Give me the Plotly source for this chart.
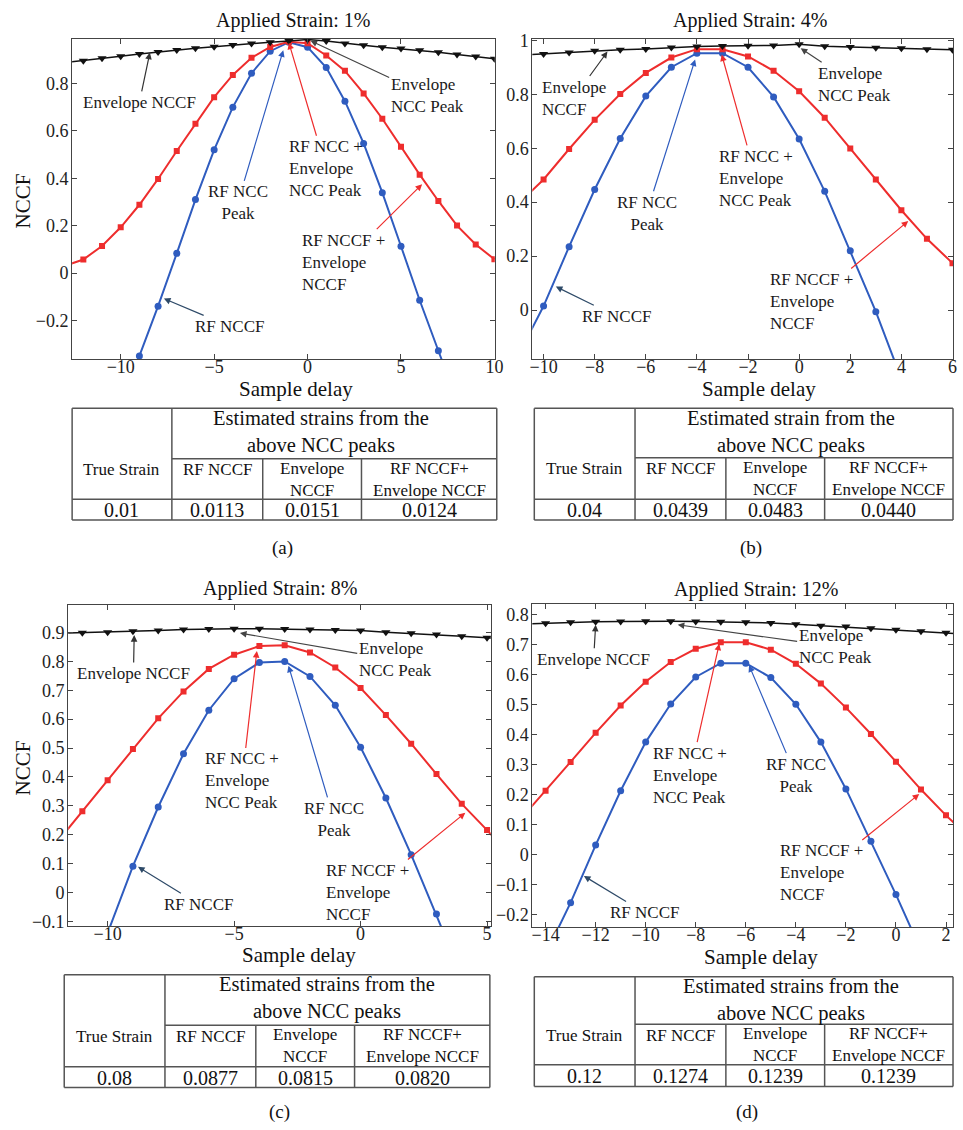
import plotly.graph_objects as go

W, H = 963, 1130
FONT = "Liberation Serif"

# ---------------- data ----------------
titles = ["Applied Strain: 1%", "Applied Strain: 4%", "Applied Strain: 8%", "Applied Strain: 12%"]
captions = ["(a)", "(b)", "(c)", "(d)"]

delay_a = list(range(-13, 11))
env_a = [0.888, 0.896, 0.906, 0.915, 0.924, 0.933, 0.941, 0.948, 0.955, 0.962, 0.968, 0.974, 0.979,
         0.985, 0.979, 0.969, 0.961, 0.953, 0.947, 0.940, 0.932, 0.922, 0.914, 0.904]
red_a = [0.030, 0.057, 0.114, 0.193, 0.288, 0.397, 0.515, 0.630, 0.742, 0.836, 0.908, 0.954, 0.976,
         0.970, 0.918, 0.853, 0.758, 0.651, 0.533, 0.415, 0.304, 0.200, 0.120, 0.058]
blue_a = [None, None, None, -0.56, -0.35, -0.14, 0.083, 0.31, 0.52, 0.70, 0.843, 0.936, 0.974,
          0.953, 0.867, 0.725, 0.547, 0.339, 0.113, -0.115, -0.328, -0.54, None, None]

delay_b = list(range(-11, 7))
env_b = [0.944, 0.949, 0.955, 0.961, 0.965, 0.968, 0.973, 0.977, 0.979, 0.980, 0.981, 0.985,
         0.978, 0.975, 0.972, 0.970, 0.967, 0.965]
red_b = [0.393, 0.484, 0.597, 0.705, 0.801, 0.879, 0.936, 0.967, 0.967, 0.940, 0.887, 0.811,
         0.713, 0.599, 0.484, 0.370, 0.264, 0.174]
blue_b = [-0.17, 0.015, 0.235, 0.447, 0.636, 0.793, 0.900, 0.952, 0.952, 0.900, 0.790, 0.634,
          0.440, 0.220, -0.006, -0.255, None, None]

delay_c = list(range(-12, 7))
env_c = [0.897, 0.899, 0.901, 0.904, 0.907, 0.910, 0.912, 0.913, 0.913, 0.912, 0.910, 0.909,
         0.907, 0.901, 0.897, 0.893, 0.887, 0.882, 0.876]
red_c = [0.174, 0.281, 0.389, 0.497, 0.603, 0.696, 0.774, 0.823, 0.853, 0.856, 0.831, 0.779,
         0.708, 0.614, 0.515, 0.410, 0.307, 0.216, 0.120]
blue_c = [None, None, -0.14, 0.091, 0.296, 0.480, 0.631, 0.740, 0.796, 0.800, 0.748, 0.648,
          0.503, 0.327, 0.131, -0.074, -0.29, None, None]

delay_d = list(range(-15, 4))
env_d = [0.769, 0.772, 0.775, 0.777, 0.778, 0.779, 0.779, 0.778, 0.777, 0.775, 0.773, 0.769,
         0.764, 0.761, 0.755, 0.750, 0.745, 0.740, 0.735]
red_d = [0.120, 0.214, 0.310, 0.407, 0.498, 0.577, 0.643, 0.687, 0.709, 0.709, 0.684, 0.637,
         0.571, 0.491, 0.403, 0.311, 0.218, 0.132, 0.053]
blue_d = [None, -0.331, -0.159, 0.033, 0.214, 0.376, 0.503, 0.593, 0.639, 0.639, 0.591, 0.502,
          0.376, 0.220, 0.046, -0.132, -0.318, None, None]

# table values
true_strain = ["0.01", "0.04", "0.08", "0.12"]
rf_est = ["0.0113", "0.0439", "0.0877", "0.1274"]
env_est = ["0.0151", "0.0483", "0.0815", "0.1239"]
comb_est = ["0.0124", "0.0440", "0.0820", "0.1239"]
header_text = ["Estimated strains from the<br>above NCC peaks",
               "Estimated strain from the<br>above NCC peaks",
               "Estimated strains from the<br>above NCC peaks",
               "Estimated strains from the<br>above NCC peaks"]
sub_headers = ["True Strain", "RF NCCF", "Envelope<br>NCCF", "RF NCCF+<br>Envelope NCCF"]

# ---------------- layout geometry (pixels) ----------------
def PX(x):
    return x / W


def PY(y):
    return 1 - y / H


RED = "#EE2D2D"
BLUE = "#2F5CBF"
BLACK = "#111111"
SLATE = "#2E4A68"

panels = [
    dict(delay=delay_a, env=env_a, red=red_a, blue=blue_a, box=(70, 498, 31, 355),
         xr=[-12.6, 10.02], yr=[-0.3625, 0.989], xd=5, yd=0.2, title_x=294, title_y=13,
         xlab=(297, 385), ylab=True),
    dict(delay=delay_b, env=env_b, red=red_b, blue=blue_b, box=(536, 962, 31, 355),
         xr=[-10.44, 6.02], yr=[-0.181, 1.006], xd=2, yd=0.2, title_x=756, title_y=13,
         xlab=(766, 385), ylab=False),
    dict(delay=delay_c, env=env_c, red=red_c, blue=blue_c, box=(66, 494, 604, 929),
         xr=[-11.56, 5.15], yr=[-0.117, 0.995], xd=5, yd=0.1, title_x=281, title_y=587,
         xlab=(300, 958), ylab=True),
    dict(delay=delay_d, env=env_d, red=red_d, blue=blue_d, box=(536, 962, 603, 930),
         xr=[-14.53, 2.28], yr=[-0.241, 0.836], xd=2, yd=0.1, title_x=762, title_y=588,
         xlab=(768, 960), ylab=False),
]

# arrow annotations: (text, tip_x, tip_y, text_x, text_y, color, align)
labels = [
    [("Envelope NCCF", -8.44, 0.93, -9.0, 0.72, "#333333", "center"),
     ("Envelope<br>NCC Peak", 0.16, 0.98, 6.4, 0.75, "#444444", "left"),
     ("RF NCC +<br>Envelope<br>NCC Peak", -1.0, 0.972, 1.0, 0.44, RED, "left"),
     ("RF NCC<br>Peak", -1.3, 0.94, -3.74, 0.296, BLUE, "center"),
     ("RF NCCF +<br>Envelope<br>NCCF", 6.13, 0.375, 1.92, 0.046, RED, "left"),
     ("RF NCCF", -7.69, -0.108, -4.16, -0.225, SLATE, "center")],
    [("Envelope<br>NCCF", -7.5, 0.958, -8.82, 0.786, "#333333", "left"),
     ("Envelope<br>NCC Peak", 0.06, 0.97, 2.18, 0.837, "#444444", "left"),
     ("RF NCC +<br>Envelope<br>NCC Peak", -3.03, 0.947, -1.68, 0.488, RED, "left"),
     ("RF NCC<br>Peak", -4.07, 0.929, -5.97, 0.359, BLUE, "center"),
     ("RF NCCF +<br>Envelope<br>NCCF", 4.27, 0.33, 0.48, 0.032, RED, "left"),
     ("RF NCCF", -9.52, 0.087, -7.16, -0.023, SLATE, "center")],
    [("Envelope NCCF", -8.95, 0.891, -8.98, 0.758, "#333333", "center"),
     ("Envelope<br>NCC Peak", -4.77, 0.898, 1.37, 0.805, "#444444", "left"),
     ("RF NCC +<br>Envelope<br>NCC Peak", -4.1, 0.836, -4.69, 0.386, RED, "left"),
     ("RF NCC<br>Peak", -2.85, 0.785, -1.05, 0.253, BLUE, "center"),
     ("RF NCCF +<br>Envelope<br>NCCF", 4.14, 0.276, 0.27, 0.0, RED, "left"),
     ("RF NCCF", -8.8, 0.089, -6.4, -0.041, SLATE, "center")],
    [("Envelope NCCF", -12.0, 0.767, -12.08, 0.652, "#333333", "center"),
     ("Envelope<br>NCC Peak", -8.72, 0.767, -2.43, 0.694, "#444444", "left"),
     ("RF NCC +<br>Envelope<br>NCC Peak", -7.06, 0.704, -8.24, 0.266, RED, "left"),
     ("RF NCC<br>Peak", -5.87, 0.632, -4.01, 0.266, BLUE, "center"),
     ("RF NCCF +<br>Envelope<br>NCCF", 0.93, 0.203, -2.98, -0.06, RED, "left"),
     ("RF NCCF", -12.47, -0.07, -10.06, -0.192, SLATE, "center")],
]

tables = [
    dict(cols=[70, 171, 263, 363, 500], rows=[405, 456, 497, 518], hx=322, cap=(283, 546)),
    dict(cols=[538, 640, 732, 832, 962], rows=[405, 455, 497, 518], hx=798, cap=(757, 546)),
    dict(cols=[62, 164, 256, 356, 493], rows=[978, 1029, 1071, 1092], hx=328, cap=(280, 1117)),
    dict(cols=[538, 640, 732, 832, 962], rows=[980, 1028, 1069, 1091], hx=798, cap=(753, 1117)),
]

fig = go.Figure()
layout = dict(width=W, height=H, margin=dict(l=0, r=0, t=0, b=0),
              plot_bgcolor="white", paper_bgcolor="white", showlegend=False)
annotations = []
shapes = []

for i, p in enumerate(panels):
    n = "" if i == 0 else str(i + 1)
    xa, ya = "x" + n, "y" + n
    x0, x1, y0, y1 = p["box"]
    axis_common = dict(showline=True, linecolor="#444444", linewidth=1, mirror="ticks",
                       ticks="inside", ticklen=5, tickcolor="#444444", showgrid=False,
                       zeroline=False, tickmode="linear",
                       tickfont=dict(family=FONT, size=18, color="#222222"))
    layout["xaxis" + n] = dict(domain=[PX(x0), PX(x1)], range=p["xr"], dtick=p["xd"], tick0=0,
                               anchor=ya, ticklabelstandoff=-9, **axis_common)
    layout["yaxis" + n] = dict(domain=[PY(y1), PY(y0)], range=p["yr"], dtick=p["yd"], tick0=0,
                               anchor=xa, ticklabelstandoff=-1, **axis_common)

    fig.add_trace(go.Scatter(x=p["delay"], y=p["blue"], mode="lines+markers", xaxis=xa, yaxis=ya,
                             line=dict(color=BLUE, width=2),
                             marker=dict(symbol="circle", size=7, color=BLUE)))
    fig.add_trace(go.Scatter(x=p["delay"], y=p["red"], mode="lines+markers", xaxis=xa, yaxis=ya,
                             line=dict(color=RED, width=2),
                             marker=dict(symbol="square", size=6, color=RED)))
    fig.add_trace(go.Scatter(x=p["delay"], y=p["env"], mode="lines+markers", xaxis=xa, yaxis=ya,
                             line=dict(color=BLACK, width=1.5),
                             marker=dict(symbol="triangle-down", size=8, color=BLACK)))

    # title
    annotations.append(dict(text=titles[i], x=PX(p["title_x"]), y=PY(p["title_y"]), xref="paper",
                            yref="paper", showarrow=False, xanchor="center", yanchor="middle",
                            font=dict(family=FONT, size=20, color="#111111")))
    # x label
    annotations.append(dict(text="Sample delay", x=PX(p["xlab"][0]), y=PY(p["xlab"][1]),
                            xref="paper", yref="paper", showarrow=False, xanchor="center",
                            yanchor="middle", font=dict(family=FONT, size=21, color="#111111")))
    if p["ylab"]:
        annotations.append(dict(text="NCCF", x=PX(20), y=PY((y0 + y1) / 2 + 2), xref="paper",
                                yref="paper", showarrow=False, textangle=-90, xanchor="center",
                                yanchor="middle", font=dict(family=FONT, size=21, color="#111111")))

    # arrow labels
    for (txt, tx, ty, lx, ly, col, al) in labels[i]:
        annotations.append(dict(text=txt, x=tx, y=ty, ax=lx, ay=ly, xref=xa, yref=ya,
                                axref=xa, ayref=ya, showarrow=True, arrowhead=2, arrowsize=1.1,
                                arrowwidth=1.2, arrowcolor=col, standoff=0, startstandoff=0,
                                align=al, xanchor="center", yanchor="middle",
                                font=dict(family=FONT, size=17, color="#1a1a1a")))

    # table
    t = tables[i]
    c, r = t["cols"], t["rows"]
    lc = dict(color="#555555", width=1.5)

    def hline(y, xa_, xb_):
        shapes.append(dict(type="line", xref="paper", yref="paper", x0=PX(xa_), x1=PX(xb_),
                           y0=PY(y), y1=PY(y), line=lc))

    def vline(x, ya_, yb_):
        shapes.append(dict(type="line", xref="paper", yref="paper", x0=PX(x), x1=PX(x),
                           y0=PY(ya_), y1=PY(yb_), line=lc))

    hline(r[0], c[0], c[4])
    hline(r[1], c[1], c[4])
    hline(r[2], c[0], c[4])
    hline(r[3], c[0], c[4])
    for cx in (c[0], c[1], c[4]):
        vline(cx, r[0], r[3])
    for cx in (c[2], c[3]):
        vline(cx, r[1], r[3])

    def cell_text(txt, x, y, size):
        annotations.append(dict(text=txt, x=PX(x), y=PY(y), xref="paper", yref="paper",
                                showarrow=False, xanchor="center", yanchor="middle",
                                font=dict(family=FONT, size=size, color="#111111")))

    cell_text(header_text[i], t["hx"], r[0] + 24, 20.5)
    cell_text(sub_headers[0], (c[0] + c[1]) / 2, r[1] + 11, 17)
    cell_text(sub_headers[1], (c[1] + c[2]) / 2, r[1] + 11, 17)
    cell_text(sub_headers[2], (c[2] + c[3]) / 2, r[1] + 21, 17)
    cell_text(sub_headers[3], (c[3] + c[4]) / 2, r[1] + 21, 17)
    ydata = (r[2] + r[3]) / 2 + 0.5
    row_vals = [true_strain[i], rf_est[i], env_est[i], comb_est[i]]
    for k, v in enumerate(row_vals):
        cell_text(v, (c[k] + c[k + 1]) / 2, ydata, 20)
    cell_text(captions[i], t["cap"][0], t["cap"][1], 19)

layout["annotations"] = annotations
layout["shapes"] = shapes
fig.update_layout(**layout)
fig.write_html("out.html")
